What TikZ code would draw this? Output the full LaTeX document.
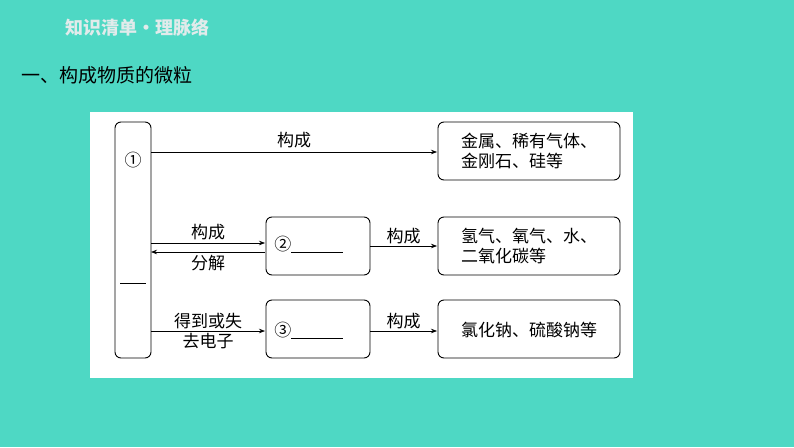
\documentclass[tikz,border=0pt]{standalone}
\usepackage{fontspec}
\setmainfont{Noto Sans CJK SC}
\usepackage{tikz}
\usetikzlibrary{arrows.meta}
\definecolor{bgteal}{RGB}{78,216,196}
\definecolor{titlegray}{RGB}{225,235,235}
\begin{document}
\begin{tikzpicture}[x=1pt,y=-1pt, thick, >={Stealth[length=6pt]},
  box/.style = {draw, rounded corners=6pt, line width=0.9pt, anchor=north west, font=\fontsize{17}{22}\selectfont, align=left, inner sep=4pt},
  lbl/.style = {font=\fontsize{17}{20}\selectfont, inner sep=1pt}]
\fill[bgteal] (0,0) rectangle (794,447);
\useasboundingbox (0,0) rectangle (794,447);
\node[anchor=west, text=titlegray, font=\fontsize{18}{20}\selectfont\bfseries] (title) at (62,28) {知识清单·理脉络};
\node[anchor=west, font=\fontsize{19}{22}\selectfont] (head) at (18,75) {一、构成物质的微粒};
\fill[white] (90,112) rectangle (633,378);
% boxes
\draw[rounded corners=6pt, line width=0.9pt] (115,122) rectangle (151,358);
\node[lbl] (one) at (133,160) {①};
\draw[line width=0.8pt] (120,283) -- (146,283);
\coordinate (l1) at (151,152);
\coordinate (l2) at (151,243);
\coordinate (l3) at (151,252);
\coordinate (l4) at (151,331);
\draw[rounded corners=6pt, line width=0.9pt] (438,122) rectangle (620,180);
\node[lbl, align=left] (r1) at (529,151) {金属、稀有气体、\\金刚石、硅等};
\draw[rounded corners=6pt, line width=0.9pt] (266,217) rectangle (370,275);
\node[lbl, anchor=west] (two) at (273,244) {②\rule[-2pt]{52pt}{0.6pt}};
\draw[rounded corners=6pt, line width=0.9pt] (438,217) rectangle (620,275);
\node[lbl, align=left] (r2) at (529,246) {氢气、氧气、水、\\二氧化碳等};
\draw[rounded corners=6pt, line width=0.9pt] (266,300) rectangle (370,358);
\node[lbl, anchor=west] (three) at (273,330) {③\rule[-2pt]{52pt}{0.6pt}};
\draw[rounded corners=6pt, line width=0.9pt] (438,300) rectangle (620,358);
\node[lbl] (r3) at (529,330) {氯化钠、硫酸钠等};
% arrows
\draw[->, line width=0.7pt] (l1) -- node[lbl, above=3pt] {构成} (437,152);
\draw[->, line width=0.7pt] (l2) -- node[lbl, above=2pt] {构成} (265,243);
\draw[<-, line width=0.7pt] (l3) -- node[lbl, below=2pt] {分解} (265,252);
\draw[->, line width=0.7pt] (l4) -- node[lbl, above=1pt] {得到或失} node[lbl, below=1pt] {去电子} (265,331);
\draw[->, line width=0.7pt] (370,246) -- node[lbl, above=1pt] {构成} (437,246);
\draw[->, line width=0.7pt] (370,331) -- node[lbl, above=1pt] {构成} (437,331);
\end{tikzpicture}
\end{document}
